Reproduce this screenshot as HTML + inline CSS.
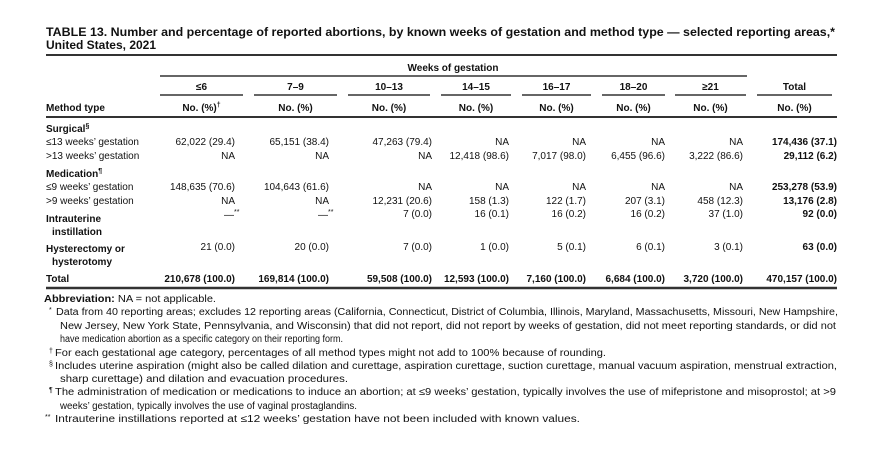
<!DOCTYPE html>
<html><head><meta charset="utf-8"><style>
html,body{margin:0;padding:0;background:#fff;}
svg{display:block;font-family:"Liberation Sans",sans-serif;}
</style></head><body>
<svg id="tbl" width="881" height="451" viewBox="0 0 881 451" xmlns="http://www.w3.org/2000/svg">
<g font-weight="bold" font-size="12" fill="#111">
<text x="46" y="36" textLength="789" lengthAdjust="spacingAndGlyphs">TABLE 13. Number and percentage of reported abortions, by known weeks of gestation and method type — selected reporting areas,*</text>
<text x="46" y="49" textLength="110" lengthAdjust="spacingAndGlyphs">United States, 2021</text>
</g>
<g id="rules" stroke="#333"></g>
<g id="head" font-size="10" font-weight="bold" fill="#111"></g>
<g id="body" font-size="10" fill="#111"></g>
<g id="notes" font-size="10" fill="#111"></g>
</svg>
<script>
const NS='http://www.w3.org/2000/svg';
const colHeads=['≤6','7–9','10–13','14–15','16–17','18–20','≥21','Total'];
const colRight=[235,329,432,509,586,665,743,837];
const colRule=[[160,243],[254,337],[348,430],[441,511],[522,591],[602,665],[675,746],[757,832]];
const rowLabels=['≤13 weeks’ gestation','>13 weeks’ gestation','≤9 weeks’ gestation','>9 weeks’ gestation','Intrauterine','Hysterectomy or','Total'];
const rowY=[141,155,186,200,212,246,278];
const rowVals=[
['62,022 (29.4)','65,151 (38.4)','47,263 (79.4)','NA','NA','NA','NA','174,436 (37.1)'],
['NA','NA','NA','12,418 (98.6)','7,017 (98.0)','6,455 (96.6)','3,222 (86.6)','29,112 (6.2)'],
['148,635 (70.6)','104,643 (61.6)','NA','NA','NA','NA','NA','253,278 (53.9)'],
['NA','NA','12,231 (20.6)','158 (1.3)','122 (1.7)','207 (3.1)','458 (12.3)','13,176 (2.8)'],
['—**','—**','7 (0.0)','16 (0.1)','16 (0.2)','16 (0.2)','37 (1.0)','92 (0.0)'],
['21 (0.0)','20 (0.0)','7 (0.0)','1 (0.0)','5 (0.1)','6 (0.1)','3 (0.1)','63 (0.0)'],
['210,678 (100.0)','169,814 (100.0)','59,508 (100.0)','12,593 (100.0)','7,160 (100.0)','6,684 (100.0)','3,720 (100.0)','470,157 (100.0)']
];
function t(parent,x,y,str,opts){const e=document.createElementNS(NS,'text');e.setAttribute('x',x);e.setAttribute('y',y);e.textContent=str;if(opts)for(const k in opts)e.setAttribute(k,opts[k]);parent.appendChild(e);return e;}
function ln(x1,y1,x2,y2,w,name){const e=document.createElementNS(NS,'line');e.setAttribute('x1',x1);e.setAttribute('y1',y1);e.setAttribute('x2',x2);e.setAttribute('y2',y2);e.setAttribute('stroke-width',w);


document.getElementById('rules').appendChild(e);}
ln(46,55,837,55,2,'top-rule');
ln(160,76,747,76,1.5,'weeks-rule');
colRule.forEach(r=>ln(r[0],95,r[1],95,1.5,'column-rule'));
ln(46,117,837,117,2,'header-rule');
ln(46,288,837,288,2.5,'bottom-rule');
const head=document.getElementById('head');
let w=t(head,453,71,'Weeks of gestation',{'text-anchor':'middle'});


colHeads.forEach((h,i)=>{const cx=(colRule[i][0]+colRule[i][1])/2;
let e=t(head,cx,90,h,{'text-anchor':'middle'});


let s=t(head,cx,111,'No. (%)',{'text-anchor':'middle'});
if(i===0){const sp=document.createElementNS(NS,'tspan');sp.setAttribute('font-size','7');sp.setAttribute('dy','-4');sp.textContent='†';s.appendChild(sp);}


});
let mt=t(head,46,111,'Method type');


const body=document.getElementById('body');
function sup(el,s){const sp=document.createElementNS(NS,'tspan');sp.setAttribute('font-size','7');sp.setAttribute('dy','-4');sp.textContent=s;el.appendChild(sp);}
let g1=t(body,46,132,'Surgical',{'font-weight':'bold'});sup(g1,'§');


let g2=t(body,46,177,'Medication',{'font-weight':'bold'});sup(g2,'¶');


rowLabels.forEach((lab,r)=>{
 const bold=r>=4;const y=rowY[r]+4;
 let ly=r===4?222:(r===5?252:y);
 let e=t(body,46,ly,lab,bold?{'font-weight':'bold'}:null);
 
 
 if(r===4){let e2=t(body,52,235,'instillation',{'font-weight':'bold'});}
 if(r===5){let e2=t(body,52,265,'hysterotomy',{'font-weight':'bold'});}
 rowVals[r].forEach((v,c)=>{
  const isB=(c===7)||r===6;
  let vy=y; if(r===4&&c<2)vy=rowY[r]+6; if(r===4&&c>=2)vy=rowY[r]+5;
  let e3=t(body,colRight[c],vy,v==='—**'?'—':v,{'text-anchor':'end','font-weight':isB?'bold':'normal'});
  if(v==='—**'){e3.setAttribute('text-anchor','start');e3.setAttribute('x',colRight[c]-11);sup(e3,'**');}
  
  
 });
});
const notes=document.getElementById('notes');
const noteLines=[
[44,302,172,'',null,'Abbreviation: NA = not applicable.'],
[56,315,782,'*',49,'Data from 40 reporting areas; excludes 12 reporting areas (California, Connecticut, District of Columbia, Illinois, Maryland, Massachusetts, Missouri, New Hampshire,'],
[60,329,776,'',null,'New Jersey, New York State, Pennsylvania, and Wisconsin) that did not report, did not report by weeks of gestation, did not meet reporting standards, or did not'],
[60,342,283,'',null,'have medication abortion as a specific category on their reporting form.'],
[55,356,551,'†',49,'For each gestational age category, percentages of all method types might not add to 100% because of rounding.'],
[55,369,782,'§',49,'Includes uterine aspiration (might also be called dilation and curettage, aspiration curettage, suction curettage, manual vacuum aspiration, menstrual extraction,'],
[60,382,288,'',null,'sharp curettage) and dilation and evacuation procedures.'],
[55,395,781,'¶',49,'The administration of medication or medications to induce an abortion; at ≤9 weeks’ gestation, typically involves the use of mifepristone and misoprostol; at >9'],
[60,409,297,'',null,'weeks’ gestation, typically involves the use of vaginal prostaglandins.'],
[55,422,525,'**',45,'Intrauterine instillations reported at ≤12 weeks’ gestation have not been included with known values.']
];
noteLines.forEach((n,i)=>{
 let e;
 if(i===0){e=t(notes,n[0],n[1],'');const b=document.createElementNS(NS,'tspan');b.setAttribute('font-weight','bold');b.textContent='Abbreviation:';e.appendChild(b);const r=document.createElementNS(NS,'tspan');r.textContent=' NA = not applicable.';e.appendChild(r);e.setAttribute('textLength',n[2]);e.setAttribute('lengthAdjust','spacingAndGlyphs');}
 else{e=t(notes,n[0],n[1],n[5],{textLength:n[2],lengthAdjust:'spacingAndGlyphs'});}
 
 
 if(n[3]){let m=t(notes,n[4],n[1]-3,n[3],{'font-size':'7'});}
});
</script>
</body></html>
